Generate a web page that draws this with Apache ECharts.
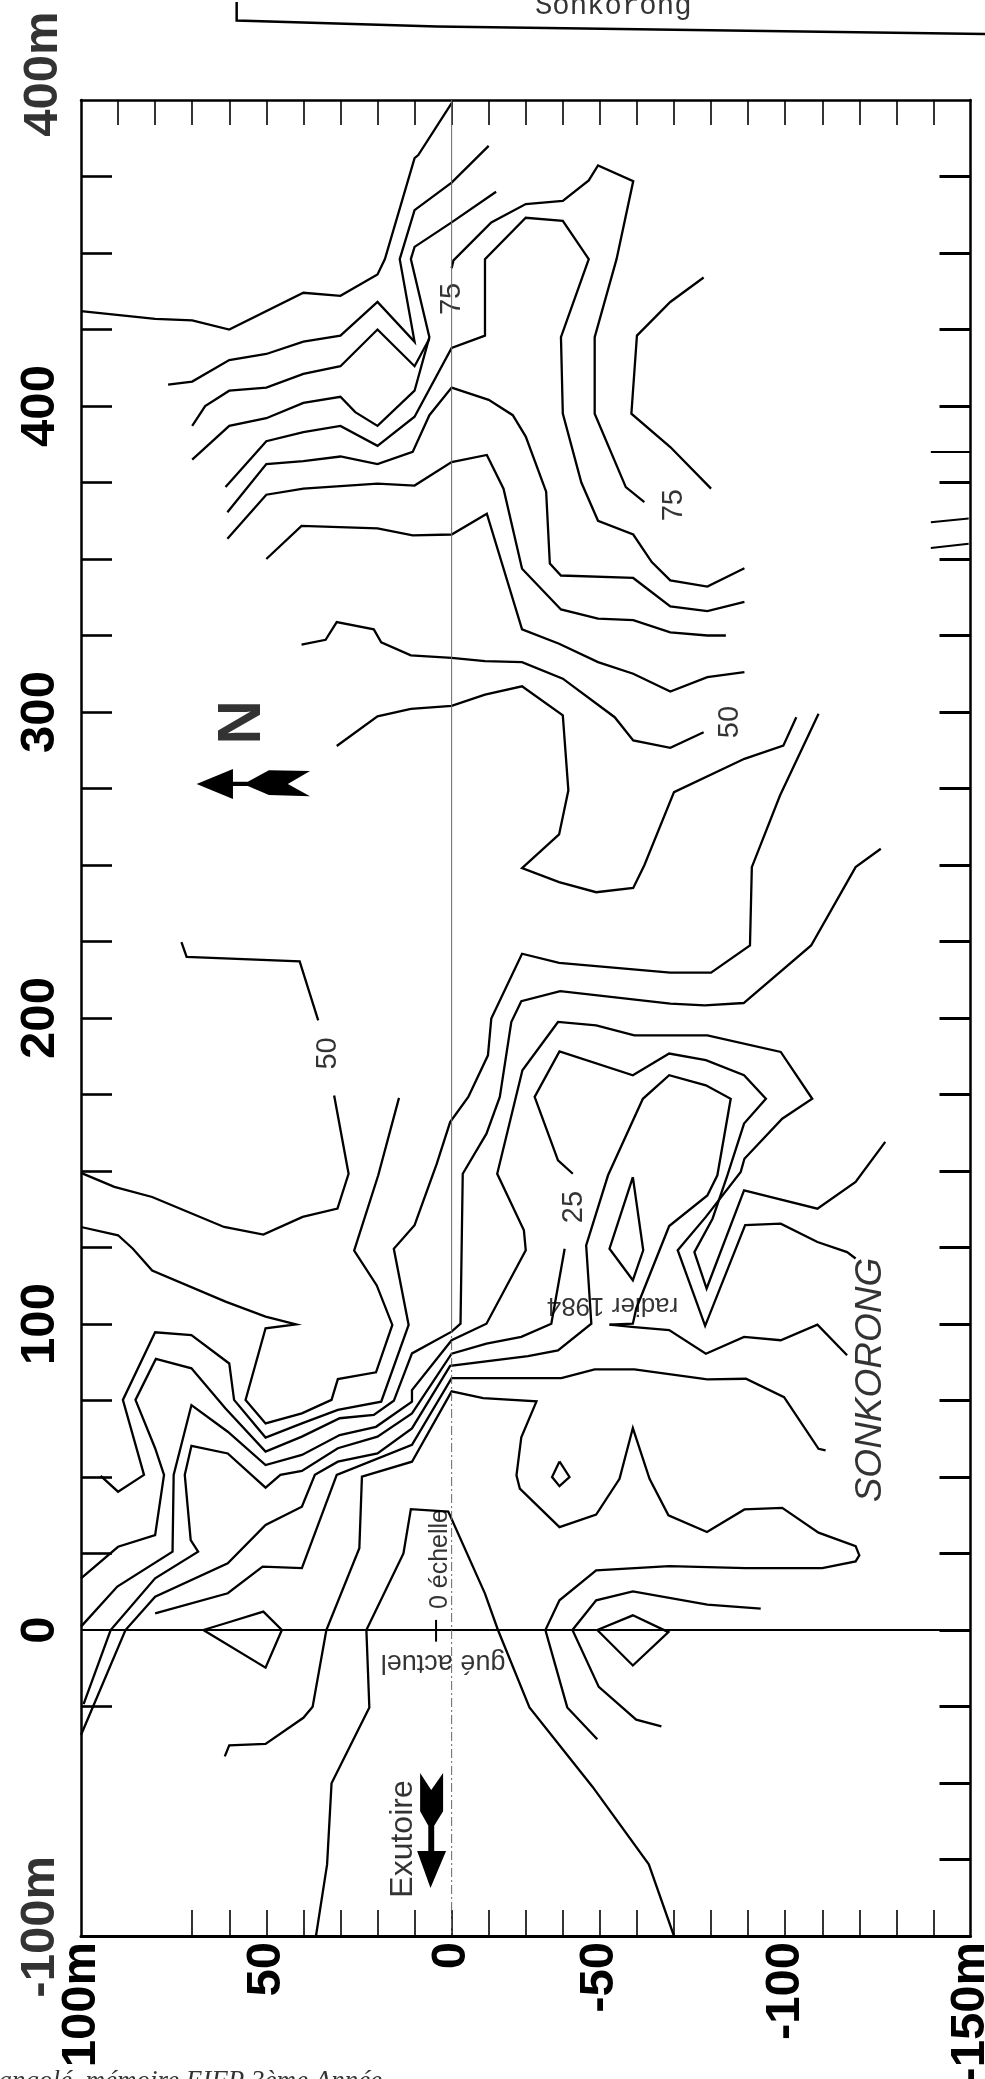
<!DOCTYPE html>
<html><head><meta charset="utf-8">
<style>html,body{margin:0;padding:0;background:#fff}#c{width:985px;height:2079px}</style>
<script src="https://cdn.jsdelivr.net/npm/echarts@6/dist/echarts.min.js"></script>
</head><body><div id="c"></div>
<script>
// contour lines, flat lists of x (m), y (m)
const contour1 = [0,499, 9,482, 10,481, 18,448, 20,443, 30,436, 40,437, 60,425, 70,428, 80,428.5, 100,431];
const contour2 = [-10,485, 0,473, 10,464, 14,448, 10,421, 20,434, 30,423, 40,421, 50,417, 60,415, 70,408, 76.5,407];
const contour3 = [-12,470, 0,460, 10,452, 11,448, 6,422.5, 10,405, 20,393.5, 26,398, 30,403, 40,401, 50,396, 60,393.5, 70,382.5];
const contour4 = [6,422, 10,413, 20,425, 30,413, 40,410.5, 50,406, 60,405, 66.5,400, 70,393.5];
const contour5 = [61,373.5, 50,388.5, 40,391.5, 30,393.5, 20,387, 10,396.5, 0,419, -9,423, -9,448, -20,461.5, -30,460.5, -37,448, -29.5,422.5, -30,397.5, -35,375, -39.5,362.5, -49,358, -54,349, -59,343, -69,341, -79,347];
const contour6 = [60.5,365.3, 50,381, 40,382, 30,383.5, 20,381, 10.5,385, 6,397, 0,406, -10,402, -16.5,397, -20,390, -25.5,372, -26.5,348.5, -29.5,344.6, -49,343.8, -59,334.5, -69,333, -79,336];
const contour7 = [60.5,356.6, 50,371, 40,373, 20,374.6, 10,374, 0,381.7, -9.5,384, -14,373, -19,346.8, -29.5,333.5, -39.5,330.5, -49,330, -59,326, -69,325, -74,325];
const contour8 = [50,350, 40.5,360.8, 20,360, 10.5,357.7, 0,358, -9.5,364.8, -19,327, -29,322.3, -39.5,316.3, -49,312.5, -59,306.7, -69,311.4, -79,313];
const contour9 = [0,445, -0.5,447.6, -10.7,460, -20,466, -30,467, -37,473.7, -39.5,478.6, -49,473.5, -44.5,448, -38.6,422.5, -38.6,397.5, -47,373.5, -52,368.6];
const contour10 = [-68,442, -59,434, -50,423, -48.5,397.5, -59,386.6, -70,373];
const contour11 = [40.5,322, 34,323.6, 31,329.4, 21,327, 19,322.8, 11,318.5, 0,317.7, -9,316.6, -19,316.3, -30,310.9, -44,298.3, -49,290.7, -59,288.3, -68,293.4];
const contour12 = [31,288.9, 20,298.6, 11,301, 0,302, -9,305.7, -19,308.4, -30,298.9, -31.5,274.4, -29,260, -19,249, -29,244.4, -39,241.1, -49,242.5, -52,249.9, -60,273.8, -79,284.7, -89.5,289, -93,298.3];
const contourA = [14.2,173.9, 19.8,148.6, 26.3,124, 20.2,112.6, 16,99.7, 20.4,84.2, 30.7,82, 32.4,75.2, 40.4,70.8, 50.2,67.5, 55.6,75.2, 50.2,98.6, 42,99.9, 50.2,102.4, 61,107.3, 80.8,117.5, 86,124.6, 90,129, 100,131.7];
const contourA2 = [31.7,174.7, 27.8,149.1, 30.8,137.7, 40.2,135, 50.8,129.2, 61.4,131.7, 80.8,141.5, 91,144.8, 100,149.4];
const contourA3 = [72.9,224.8, 71.5,220, 41,218.5, 36,199.2];
const contourB = [-99,299.4, -88.6,272.7, -81,249.3, -80.5,223.7, -70,214.8, -59,214.8, -29,218, -19,221, -10.7,199.8, -9.8,187.8, -4.5,174.2, 0.4,166, 4,152.4, 10,132.3, 15.6,124.6, 11.6,99.7, 19,74.6, 30.7,71.9, 40.4,67.5, 50.2,62.9, 58.7,75.2, 60,87.1, 70.2,96.4, 80,97.3, 88.7,75.2, 83,50.7, 90,45.2, 94.7,50.4];
const contourC = [-115.8,255.3, -109,249.3, -97,223.7, -78.8,204.9, -68.3,204.1, -59,204.7, -29.3,208.8, -18.8,205.5, -16.1,198.7, -13,174.2, -9.4,162.2, -3,149.1, -2.4,100.1, 0,97.5, 10.7,90.4, 15.6,74.9, 21,70.3, 30.2,69.2, 40.4,63.2, 50.2,58.3, 61,72.4, 70.2,85.5, 79.8,88.6, 85.3,75.2, 80,59.4, 77.6,50.7, 80,31, 90,27.2, 100,16.9];
const contourD = [-109,121.4, -106.7,123.5, -98.7,126.8, -88.8,132.8, -79.2,132.3, -68.4,99.4, -61,124.1, -68.6,135, -78,149.7, -79,154, -89.2,167.1, -97.3,173.6, -88.8,188.9, -69,194.3, -49.3,194.3, -39,197.6, -28.7,198.7, -19.1,182.9, -12.3,149.1, -19.5,130.6, -20,124.1, -9.4,100.1, 0,94.7, 10.7,78.4, 10.7,74.6, 20.4,66.4, 30.2,63.7, 40.4,57.2, 50.2,53.9, 60.4,64.8, 70.2,73.5, 75,50.7, 75.3,25.6, 90.2,14.2, 100,1.1];
const contourE = [-117,159.5, -109,146.4, -98.7,137.7, -78.9,143.7, -68.8,111.6, -65.5,123.5, -70.4,134.4, -74.4,148.6, -78.9,165.5, -84.8,173.6, -78.9,181.3, -68.6,186.2, -58.7,188.4, -48.9,181.3, -29.1,189.1, -22.4,174.2, -28.7,153.5, -32.7,149.1];
const contourE2 = [-30.5,124.6, -26.9,100.1, -18.8,95.8, -9.4,93.6, 0,90.3, 10.7,70.8, 20,63.2, 30.7,59.4, 40.4,52, 46.2,50.7, 50.2,46.5, 60.4,57.7, 70.2,60.2, 72,50.7, 70.4,29.4, 68.4,25.6, 80,16.9, 92,0, 99.3,-24.2];
const contourF = [-42.6,99.8, -48.9,100.1, -49.8,105, -58.7,132, -69,142, -71.7,148.6, -75.3,173.6, -68.6,178, -58.7,181.3, -51.6,173.6, -42.2,148.6, -36.3,125.7, -37.7,100.1, -28.7,91.4, -20.6,89.5, 0.4,86.3, 10.7,65.9, 20,57.7, 30.7,55, 36.9,50.7, 40.4,40.3, 50.2,34.3, 60.4,21.8, 80,10.9, 88,0, 100,-34.3];
const contourG = [-42.6,99.8, -49.3,99, -58.7,98, -68.6,90.3, -78.9,95.8, -88.8,94.7, -98.7,99.8, -106.7,89.8];
const contourH = [-100.9,58.7, -99,59.2, -89.7,76.1, -79.4,82.1, -69,81.9, -49.3,85.2, -38.6,85.2, -29.6,82.3, 0,82.3, 10.7,60.5, 31,50.7, 40.4,20.2, 51,20.7, 60.4,12, 80,5.4];
const contourI = [-39.3,-35.7, -31.2,-25.3, -25.3,0, -29.1,9.7, -39,19.5, -58.7,20.9, -79.4,20.2, -100,20.2, -109,22.4, -110,24.4, -109,27.4, -99,31.8, -89.2,39.9, -79,39.4, -68.9,32, -58.5,37.5, -53.4,49.4, -48.9,66, -45.3,49.4, -39,37.7, -29.1,33.6, -18.4,46.2, -17.5,50.5, -18.8,63, -22.9,74.7, -8.5,75.8, 0,78, 10.7,55, 24.2,50.1, 24.9,26.7, 33.8,0, 37.5,-25.1, 40,-28.7, 50.2,-37.2, 60,-37.7, 61.2,-41.3];
const contourJ = [-60,-100, -53.2,-76.6, -38,-51.2, -21,-25.3, -12.5,0, -9,11.9, 0.9,38.7, 11,39.5, 13,25, 23,0, 22.2,-25.3, 32.4,-50.1, 33.6,-76.6, 36.6,-100];
const contourK = [-29.1,55.1, -27.1,50, -29.1,47, -31.8,50, -29.1,55.1];
const contourL = [-83.4,7, -69,8.3, -48.9,12.6, -39,9.7, -32.6,0, -39.7,-18.6, -49.8,-29.3, -56.6,-31.5];
const contourM = [-39.3,0, -48.9,4.8, -58.5,-0.7, -48.9,-11.6, -39.3,0];
const contourN = [-48.9,148, -42.6,124.6, -48.9,114.3, -51.7,124.1, -48.9,148];
const contourO = [67,0, 61,2.2, 50.8,6, 45.8,0, 50.2,-12.3, 67,0];
const contours = [contour1,contour2,contour3,contour4,contour5,contour6,contour7,contour8,contour9,contour10,contour11,contour12,contourA,contourA2,contourA3,contourB,contourC,contourD,contourE,contourE2,contourF,contourG,contourH,contourI,contourJ,contourK,contourL,contourM,contourN,contourO];

const axisLineZero = [100,0, -140,0];
const sheetEdge = [58,532, 58,526, 4,524, -150,521.5];
const strayMarks = [[-129.3,362, -139.5,363.2],[-129.3,353.6, -139.5,355],[-129.3,385, -140,385],[4.2,3.3, 4.2,-3.8]];

// tick positions and labels
const xTickLabels = {100:'100m', 50:'50', 0:'0', '-40':'-50', '-90':'-100', '-140':'-150m'};
const yTickLabels = {400:'400', 300:'300', 200:'200', 100:'100', 0:'0'};
const xTopTicks = [90,80,70,60,50,40,30,20,10,0,-10,-20,-30,-40,-50,-60,-70,-80,-90,-100,-110,-120,-130];
const xBottomTicks = [70,60,50,40,30,20,10,0,-10,-20,-30,-40,-50,-60,-70,-80,-90,-100,-110,-120,-130];
const yLeftTicks = [475,450,425,400,375,350,325,300,275,250,225,200,175,150,125,100,75,50,25,-25];
const yRightTicks = [475,450,425,400,375,350,325,300,275,250,225,200,175,150,125,100,75,50,25,0,-25,-50,-75];

// annotations: text, x, y, rotation, size
const notes = [
 ['400m',110,508.5,90,49,'bold'], ['-100m',111,-97,90,49,'bold'],
 ['75',-0.2,435,90,29], ['75',-60,367.6,90,29], ['50',-75,296.7,90,29], ['50',33.4,188.4,90,29], ['25',-33,138.2,90,29],
 ['N',56.3,296.6,90,62,'bold'],
 ['Exutoire',13,-68.3,90,32], ['0 échelle',3.2,23.2,90,25],
 ['gué actuel',2.3,-10.5,180,27], ['radier 1984',-43.4,106.2,180,26]
];
const sonkorong = ['SONKORONG',-113,81.7,90,37];
const sheetTitle = ['Sonkorong',-43.6,530.6,0,29];
const footer = ['angolé, mémoire EIFP 3ème Année.',69.6,-147.7,0,27];
const northArrow = [[68.8,276.5, 59,281.4, 59,277.2, 55,277.2, 49.3,281, 38.2,280.7, 44.2,276.5, 38.2,272.5, 49.3,272.9, 55,275.8, 59,275.8, 59,271.6]];
const outletArrow = [[5.7,-84.3, 9.3,-72.2, 6.3,-72.2, 6.3,-64, 8.5,-59.2, 8.5,-46.7, 5.5,-52.3, 2.3,-46.7, 2.3,-59.2, 4.7,-64, 4.7,-72.2, 1.5,-72.2]];

const pairs = a => { const r=[]; for(let i=0;i<a.length;i+=2) r.push([a[i],a[i+1]]); return r; };
const ink = '#000';
const lineSeries = (a,w,extra) => Object.assign({type:'line',data:pairs(a),symbol:'none',silent:true,smooth:false,
  lineStyle:{color:ink,width:w,join:'miter'},animation:false},extra||{});
const noteSeries = (n,font,style) => ({type:'scatter',symbolSize:1,silent:true,clip:false,
  itemStyle:{color:'rgba(0,0,0,0)'},data:[{value:[n[1],n[2]],
  label:{show:true,position:'inside',formatter:n[0],rotate:n[3],fontSize:n[4],fontFamily:font||'Liberation Sans',
   fontWeight:n[5]||'normal',fontStyle:style||'normal',color:ink,align:'center',verticalAlign:'middle'}}]});
const polySeries = polys => ({type:'custom',silent:true,clip:false,data:polys.map((p,i)=>[i]),
  renderItem:(params,api)=>({type:'polygon',shape:{points:pairs(polys[params.dataIndex]).map(p=>api.coord(p))},style:{fill:ink}})});
const pathSeries = (a,w) => ({type:'custom',silent:true,clip:false,data:[[0]],
  renderItem:(params,api)=>({type:'polyline',shape:{points:pairs(a).map(p=>api.coord(p))},style:{stroke:ink,fill:null,lineWidth:w}})});

const series = [];
contours.forEach(c=>series.push(lineSeries(c,2.3)));
series.push(lineSeries(axisLineZero,2));
series.push(lineSeries([0,500,0,100],1,{lineStyle:{color:'#666',width:1}}));
series.push(lineSeries([0,100,0,-100],1,{lineStyle:{color:'#666',width:1,type:[9,3,2,3]}}));
series.push(pathSeries(sheetEdge,2.5));
strayMarks.forEach(m=>series.push(lineSeries(m,2,{clip:false})));
notes.forEach(n=>series.push(noteSeries(n)));
series.push(noteSeries(sonkorong,'Liberation Sans','italic'));
series.push(noteSeries(sheetTitle,'Liberation Mono'));
series.push(noteSeries(footer,'Liberation Serif','italic'));
series.push(polySeries(northArrow));
series.push(polySeries(outletArrow));

const frame = w => ({show:true,onZero:false,lineStyle:{color:ink,width:w}});
const chart = echarts.init(document.getElementById('c'),null,{renderer:'canvas'});
chart.setOption({
 animation:false, backgroundColor:'#fff',
 grid:{left:81,right:14.5,top:100,bottom:2079-1936,containLabel:false,outerBoundsMode:'none'},
 xAxis:[
  {type:'value',inverse:true,min:-140,max:100,interval:10,position:'bottom',splitLine:{show:false},axisLine:frame(3),
   axisTick:{show:true,inside:true,length:26,customValues:xBottomTicks,lineStyle:{color:ink,width:1.6}},
   axisLabel:{show:true,rotate:90,margin:6,fontSize:49,fontWeight:'bold',fontFamily:'Liberation Sans',color:ink,
     customValues:Object.keys(xTickLabels).map(Number),hideOverlap:false,formatter:v=>xTickLabels[v]||''}},
  {type:'value',inverse:true,min:-140,max:100,interval:10,position:'top',splitLine:{show:false},axisLine:frame(2.5),
   axisTick:{show:true,inside:true,length:25,customValues:xTopTicks,lineStyle:{color:ink,width:1.6}},axisLabel:{show:false}}
 ],
 yAxis:[
  {type:'value',min:-100,max:500,interval:25,position:'left',splitLine:{show:false},axisLine:frame(2.5),
   axisTick:{show:true,inside:true,length:31,customValues:yLeftTicks,lineStyle:{color:ink,width:2.6}},
   axisLabel:{show:true,rotate:90,margin:16,fontSize:49,fontWeight:'bold',fontFamily:'Liberation Sans',color:ink,
     customValues:Object.keys(yTickLabels).map(Number),hideOverlap:false,formatter:v=>yTickLabels[v]||'',align:'center',verticalAlign:'bottom'}},
  {type:'value',min:-100,max:500,interval:25,position:'right',splitLine:{show:false},axisLine:frame(2.5),
   axisTick:{show:true,inside:true,length:31,customValues:yRightTicks,lineStyle:{color:ink,width:3}},axisLabel:{show:false}}
 ],
 series
});
</script></body></html>
